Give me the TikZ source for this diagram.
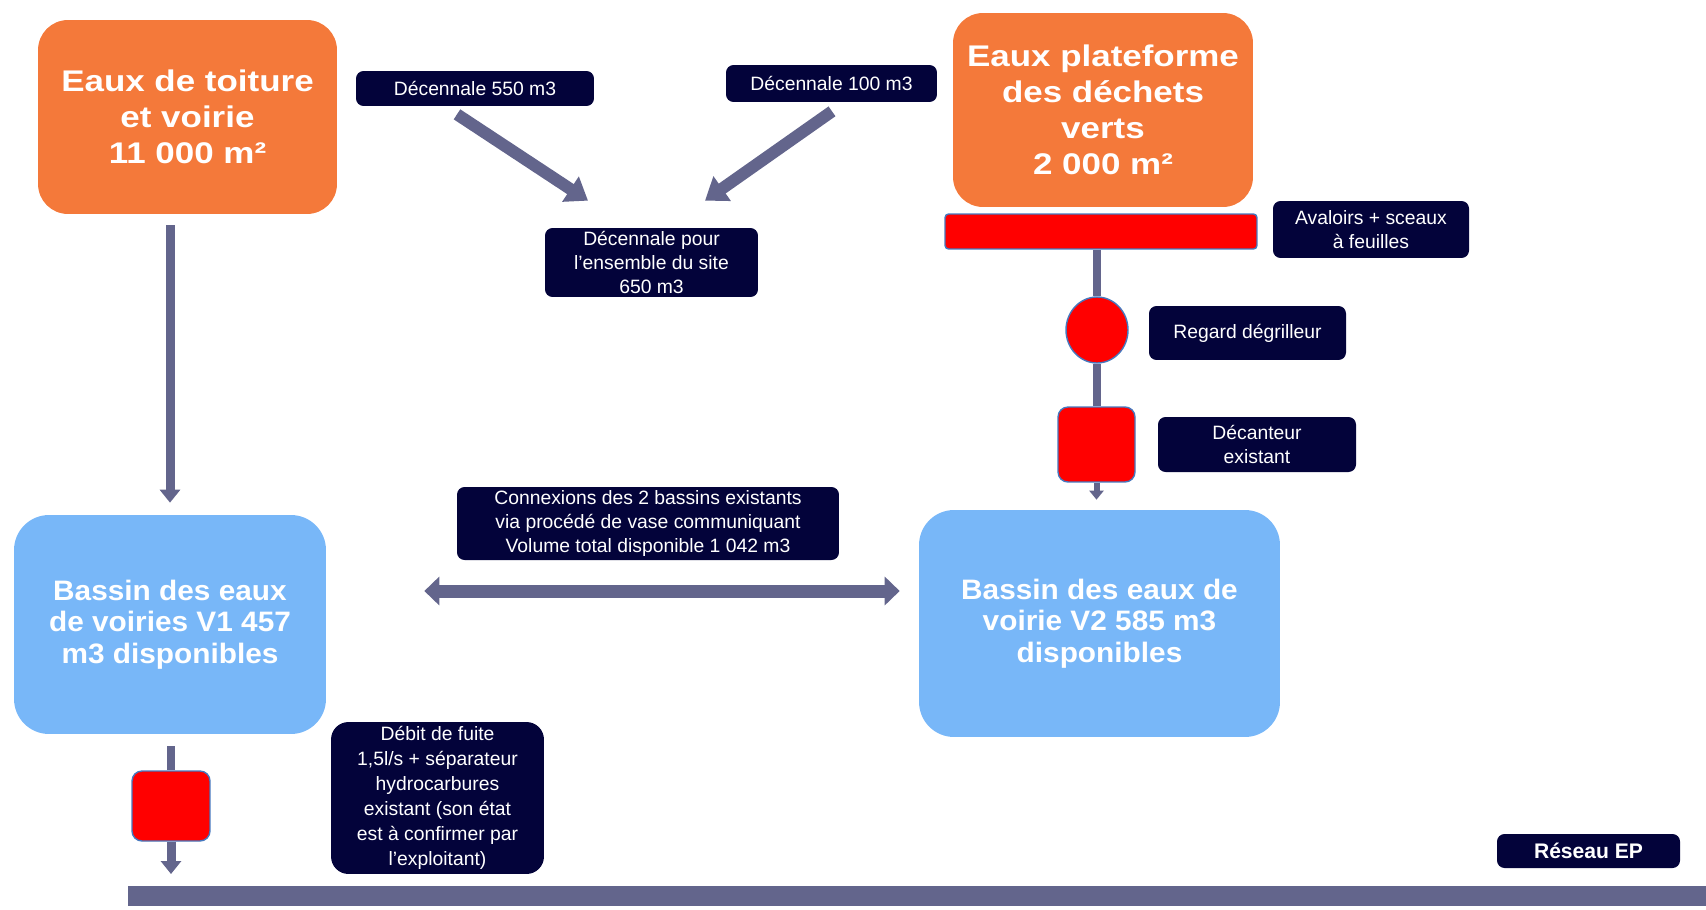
\documentclass[tikz,border=0pt]{standalone}
\usepackage{fontspec}
\setmainfont{Liberation Sans}
\newfontfamily\titrefont[FakeStretch=1.17]{Liberation Sans}
\newfontfamily\bassinfont[FakeStretch=1.06]{Liberation Sans}
\usepackage{xcolor}
\usepackage{tikz}
\usetikzlibrary{arrows.meta}
\usetikzlibrary{calc}
\usetikzlibrary{positioning}
\usetikzlibrary{shapes.geometric}
\definecolor{surface}{RGB}{244,121,58}
\definecolor{nuit}{RGB}{3,3,58}
\definecolor{pipe}{RGB}{99,101,140}
\definecolor{bassin}{RGB}{120,183,248}
\definecolor{ouvrage}{RGB}{255,0,0}
\definecolor{liseret}{RGB}{70,120,190}
\tikzset{>=Triangle,
  source/.style={fill=surface, rounded corners=0.6cm, text=white, align=center, inner sep=0pt,
    font=\titrefont\bfseries\fontsize{17}{20.5}\selectfont},
  tank/.style={fill=bassin, rounded corners=0.7cm, text=white, align=center, inner sep=0pt,
    font=\bassinfont\bfseries\fontsize{16}{18}\selectfont},
  note/.style={fill=nuit, rounded corners=0.15cm, text=white, align=center, inner sep=0pt,
    font=\fontsize{11}{13.5}\selectfont},
  organe/.style={fill=ouvrage, draw=liseret, line width=0.8pt, inner sep=0pt},
  link/.style={draw=pipe, line width=0.17cm},
  fat/.style={draw=pipe, line width=0.24cm, -{Triangle[width=0.58cm,length=0.42cm]}},
  drop/.style={draw=pipe, line width=0.18cm, -{Triangle[width=0.4cm,length=0.26cm]}},
  tiny/.style={draw=pipe, line width=0.12cm, -{Triangle[width=0.28cm,length=0.18cm]}},
  both/.style={draw=pipe, line width=0.26cm, {Triangle[width=0.56cm,length=0.3cm]}-{Triangle[width=0.56cm,length=0.3cm]}},
  outfall/.style={draw=pipe, line width=0.4cm, -{Triangle[width=0.9cm,length=0.8cm]}}
}
\begin{document}
\begin{tikzpicture}[x=0.02cm,y=-0.02cm]
\useasboundingbox (0,0) rectangle (1706,909);

\node[source, minimum width=5.98cm, minimum height=3.88cm] (toiture) at (187.5,117) {Eaux de toiture\\et voirie\\11 000 m²};
\node[source, minimum width=6cm, minimum height=3.88cm] (plateforme) at (1103,110) {Eaux plateforme\\des déchets\\verts\\2 000 m²};
\node[note, minimum width=4.76cm, minimum height=0.7cm] (dec550) at (475,88.5) {Décennale 550 m3};
\node[note, minimum width=4.22cm, minimum height=0.74cm] (dec100) at (831.5,83.5) {Décennale 100 m3};
\node[note, minimum width=4.26cm, minimum height=1.38cm] (dec650) at (651.5,262.5) {Décennale pour\\l’ensemble du site\\650 m3};

\node[organe, rounded corners=2pt, minimum width=6.24cm, minimum height=0.7cm] (grille) at (1101,231.5) {};
\node[note, minimum width=3.92cm, minimum height=1.14cm] (avaloirs) at (1371,229.5) {Avaloirs + sceaux\\à feuilles};
\node[organe, ellipse, minimum width=1.24cm, minimum height=1.32cm] (regard) at (1097,330) {};
\node[note, minimum width=3.94cm, minimum height=1.08cm] (regardtxt) at (1247.5,333) {Regard dégrilleur};
\node[organe, rounded corners=0.2cm, minimum width=1.54cm, minimum height=1.5cm] (decanteur) at (1096.5,444.5) {};
\node[note, minimum width=3.96cm, minimum height=1.1cm] (decanteurtxt) at (1257,444.5) {Décanteur\\existant};

\node[tank, minimum width=6.24cm, minimum height=4.38cm] (v1) at (170,624.5) {Bassin des eaux\\de voiries V1 457\\m3 disponibles};
\node[tank, minimum width=7.22cm, minimum height=4.54cm] (v2) at (1099.5,623.5) {Bassin des eaux de\\voirie V2 585 m3\\disponibles};
\node[note, minimum width=7.64cm, minimum height=1.46cm] (connexion) at (648,523.5) {Connexions des 2 bassins existants\\via procédé de vase communiquant\\Volume total disponible 1 042 m3};

\node[organe, rounded corners=0.2cm, minimum width=1.56cm, minimum height=1.4cm] (separateur) at (171,806) {};
\node[note, font=\fontsize{11}{14.3}\selectfont, rounded corners=0.35cm, minimum width=4.26cm, minimum height=3.04cm] (fuite) at (437.5,798) {Débit de fuite\\1,5l/s + séparateur\\hydrocarbures\\existant (son état\\est à confirmer par\\l’exploitant)};
\node[note, font=\bfseries\fontsize{12}{14}\selectfont, minimum width=3.66cm, minimum height=0.68cm] (reseau) at (1588.5,851) {Réseau EP};
\coordinate (ep0) at (128,896);
\coordinate (ep1) at (1746,896);

\draw[fat] ([shift={(-18,8)}]dec550.south) -- ([shift={(-63.5,-27)}]dec650.north);
\draw[fat] ([shift={(0.5,9)}]dec100.south) -- ([shift={(53.5,-27)}]dec650.north);
\draw[drop] ([yshift=-0.22cm]v1.north |- toiture.south) -- ([yshift=0.24cm]v1.north);
\draw[link] (regard.north |- grille.south) -- (regard.north);
\draw[link] (regard.south) -- (decanteur.north -| regard.south);
\draw[tiny] (decanteur.south) -- ([yshift=0.2cm]v2.north -| decanteur.south);
\draw[both] ([shift={(98,-33.5)}]v1.east) -- ([shift={(-19,-32.5)}]v2.west);
\draw[link] ([yshift=-0.24cm]separateur.north |- v1.south) -- (separateur.north);
\draw[drop] (separateur.south) -- ([yshift=0.44cm]separateur.south |- ep0);
\draw[outfall] (ep0) -- (ep1);
\end{tikzpicture}
\end{document}
